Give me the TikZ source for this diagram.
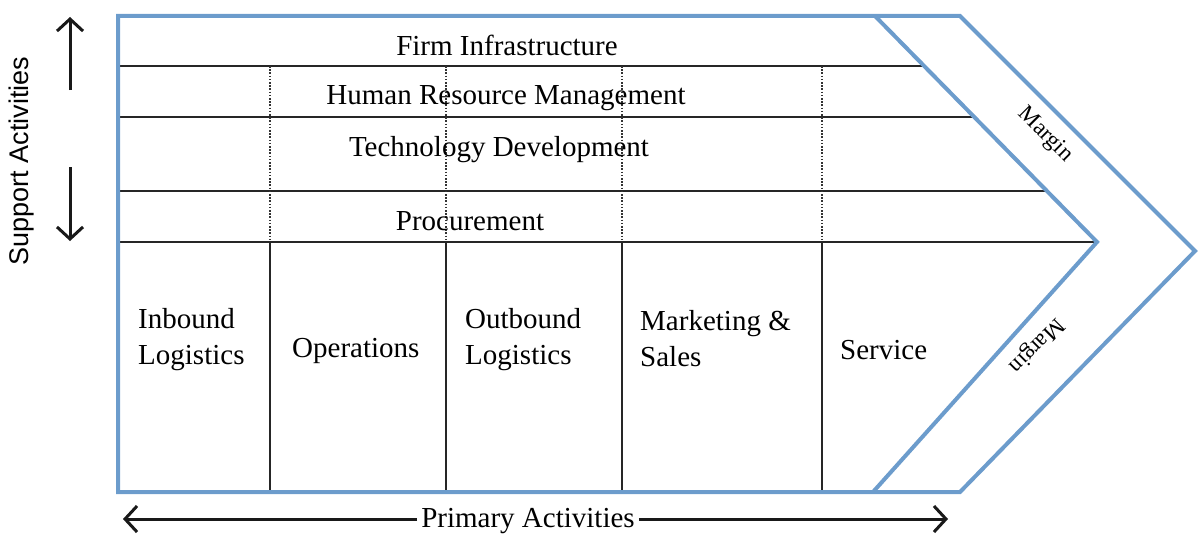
\documentclass[tikz,border=0pt]{standalone}
\usepackage{fontspec}
\setmainfont{Liberation Serif}
\newfontfamily\arialf{Liberation Sans}
\usetikzlibrary{arrows.meta}
\definecolor{chevblue}{RGB}{108,156,204}
\tikzset{
  blueline/.style={draw=chevblue, line width=4pt, line join=miter},
  gridline/.style={draw=black!85, line width=2pt},
  dotline/.style={draw=black!80, line width=1.6pt, dash pattern=on 1.6pt off 1.6pt},
  lbl/.style={font=\fontsize{29}{36}\selectfont, inner sep=0pt},
  leftlbl/.style={lbl, align=left, anchor=west},
  marginlbl/.style={font=\fontsize{23}{27}\selectfont, inner sep=0pt},
  bigarrow/.style={draw=black!90, line width=3pt, -{Straight Barb[length=12pt,width=26pt,line width=3pt]}}
}
\begin{document}
\begin{tikzpicture}[x=1pt,y=-1pt]
\useasboundingbox (0,0) rectangle (1198,535);
% outer chevron corners
\coordinate (oTL) at (118,16);
\coordinate (oTR) at (960,16);
\coordinate (oTip) at (1195,251);
\coordinate (oBR) at (960,492);
\coordinate (oBL) at (118,492);
% inner chevron
\coordinate (iT) at (875,16);
\coordinate (iTip) at (1097,242);
\coordinate (iB) at (873,492);
% horizontal line ends
\foreach \n/\y/\xe in {h1/66/924, h2/117/974, h3/191/1047, h4/242/1097}{
  \coordinate (\n L) at (118,\y);
  \coordinate (\n R) at (\xe,\y);
}
\foreach \n/\x in {v1/270, v2/446, v3/622, v4/822}{
  \coordinate (\n T) at (\x,66);
  \coordinate (\n M) at (\x,242);
  \coordinate (\n B) at (\x,492);
}
% grid
\foreach \n in {h1,h2,h3,h4}{ \draw[gridline] (\n L) -- (\n R); }
\foreach \n in {v1,v2,v3,v4}{
  \draw[dotline] (\n T) -- (\n M);
  \draw[gridline] (\n M) -- (\n B);
}
% chevrons
\draw[blueline] (oTL) -- (oTR) -- (oTip) -- (oBR) -- (oBL) -- cycle;
\draw[blueline] (iT) -- (iTip) -- (iB);
% support activity labels
\node[lbl] (fi) at (507,45) {Firm Infrastructure};
\node[lbl] (hrm) at (506,98) {Human Resource Management};
\node[lbl] (td) at (499,150) {Technology Development};
\node[lbl] (pr) at (470,221) {Procurement};
% primary activity labels
\node[leftlbl] (il) at (138,340) {Inbound\\Logistics};
\node[leftlbl] (op) at (292,351) {Operations};
\node[leftlbl] (ol) at (465,340) {Outbound\\Logistics};
\node[leftlbl] (ms) at (640,339) {Marketing \&\\Sales};
\node[leftlbl] (sv) at (840,350) {Service};
% margin labels
\node[marginlbl, rotate=-45] (m1) at (1045,135) {Margin};
\node[marginlbl, rotate=225] (m2) at (1036,345) {Margin};
% support activities axis
\node[font=\arialf\fontsize{27}{32}\selectfont, rotate=90, inner sep=0pt] (sa) at (22,161) {Support Activities};
\coordinate (upS) at (70,90);
\coordinate (upE) at (70,17);
\coordinate (dnS) at (70,167);
\coordinate (dnE) at (70,241);
\draw[bigarrow] (upS) -- (upE);
\draw[bigarrow] (dnS) -- (dnE);
% primary activities axis
\node[lbl, inner xsep=4pt] (pa) at (528,521) {Primary Activities};
\coordinate (paL) at (123,519);
\coordinate (paR) at (948,519);
\draw[bigarrow] (pa.west |- paL) -- (paL);
\draw[bigarrow] (pa.east |- paR) -- (paR);
\end{tikzpicture}
\end{document}
